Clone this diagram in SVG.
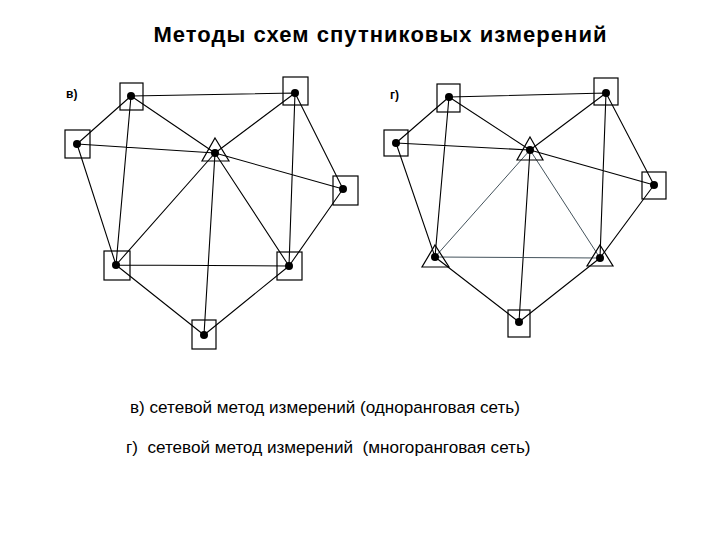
<svg xmlns="http://www.w3.org/2000/svg" width="720" height="540" viewBox="0 0 720 540">
<style>
text{font-family:"Liberation Sans",Arial,sans-serif;fill:#000}
.b{fill:none;stroke:#000;stroke-width:1.2}
.d{fill:#000}
.e{stroke:#000;stroke-width:1.1;fill:none}
.g{stroke:#2f3f4a;stroke-width:0.9;fill:none}
</style>
<rect width="720" height="540" fill="#fff"/>
<text x="380" y="42" font-size="22" font-weight="bold" text-anchor="middle" textLength="453" lengthAdjust="spacing">Методы схем спутниковых измерений</text>
<text x="66" y="98" font-size="12" font-weight="bold">в)</text>
<text x="390" y="99" font-size="12" font-weight="bold">г)</text>
<g id="connectors">
<path class="e" d="M131,96L295,93M131,96L215,153M131,96L77,144M131,96L116,265M77,144L215,153M77,144L116,265M295,93L215,153M295,93L289,266M295,93L343,189M215,153L343,189M215,153L116,265M215,153L289,266M215,153L204,335M116,265L289,266M116,265L204,335M289,266L204,335M343,189L289,266"/>
<path class="e" d="M449,97L606,93M449,97L530,150M449,97L396,143M449,97L435,257M396,143L530,150M396,143L435,257M606,93L530,150M606,93L600,258M606,93L654,185M530,150L654,185M530,150L519,322M435,257L519,322M600,258L519,322M654,185L600,258"/>
<path class="g" d="M530,150L435,257M530,150L600,258M435,257L600,258"/>
</g>
<g id="v-nodes">
<g id="vA"><rect class="b" x="120" y="83" width="23" height="27"/><circle class="d" cx="131" cy="96" r="4"/></g>
<g id="vB"><rect class="b" x="283" y="77" width="25" height="28"/><circle class="d" cx="295" cy="93" r="4"/></g>
<g id="vC"><rect class="b" x="65" y="130" width="25" height="28"/><circle class="d" cx="77" cy="144" r="4"/></g>
<g id="vT"><polygon class="b" points="215,138 229,161 202,161"/><circle class="d" cx="215" cy="153" r="4"/></g>
<g id="vD"><rect class="b" x="333" y="176" width="25" height="29"/><circle class="d" cx="343" cy="189" r="4"/></g>
<g id="vE"><rect class="b" x="104" y="251" width="26" height="29"/><circle class="d" cx="116" cy="265" r="4"/></g>
<g id="vF"><rect class="b" x="277" y="252" width="25" height="28"/><circle class="d" cx="289" cy="266" r="4"/></g>
<g id="vG"><rect class="b" x="192" y="320" width="24" height="29"/><circle class="d" cx="204" cy="335" r="4"/></g>
</g>
<g id="g-nodes">
<g id="gA"><rect class="b" x="437" y="84" width="23" height="28"/><circle class="d" cx="449" cy="97" r="4"/></g>
<g id="gB"><rect class="b" x="594" y="78" width="24" height="27"/><circle class="d" cx="606" cy="93" r="4"/></g>
<g id="gC"><rect class="b" x="384" y="130" width="24" height="26"/><circle class="d" cx="396" cy="143" r="4"/></g>
<g id="gT"><polygon class="b" points="530,137 543,160 517,160"/><circle class="d" cx="530" cy="150" r="4"/></g>
<g id="gD"><rect class="b" x="642" y="172" width="24" height="27"/><circle class="d" cx="654" cy="185" r="4"/></g>
<g id="gE"><polygon class="b" points="435,245 449,267 422,267"/><circle class="d" cx="435" cy="257" r="4"/></g>
<g id="gF"><polygon class="b" points="600,245 613,266 587,266"/><circle class="d" cx="600" cy="258" r="4"/></g>
<g id="gG"><rect class="b" x="508" y="310" width="22" height="27"/><circle class="d" cx="519" cy="322" r="4"/></g>
</g>
<text x="130" y="413" font-size="17.1">в) сетевой метод измерений (одноранговая сеть)</text>
<text x="126" y="453" font-size="17.1" xml:space="preserve">г)  сетевой метод измерений  (многоранговая сеть)</text>
</svg>
